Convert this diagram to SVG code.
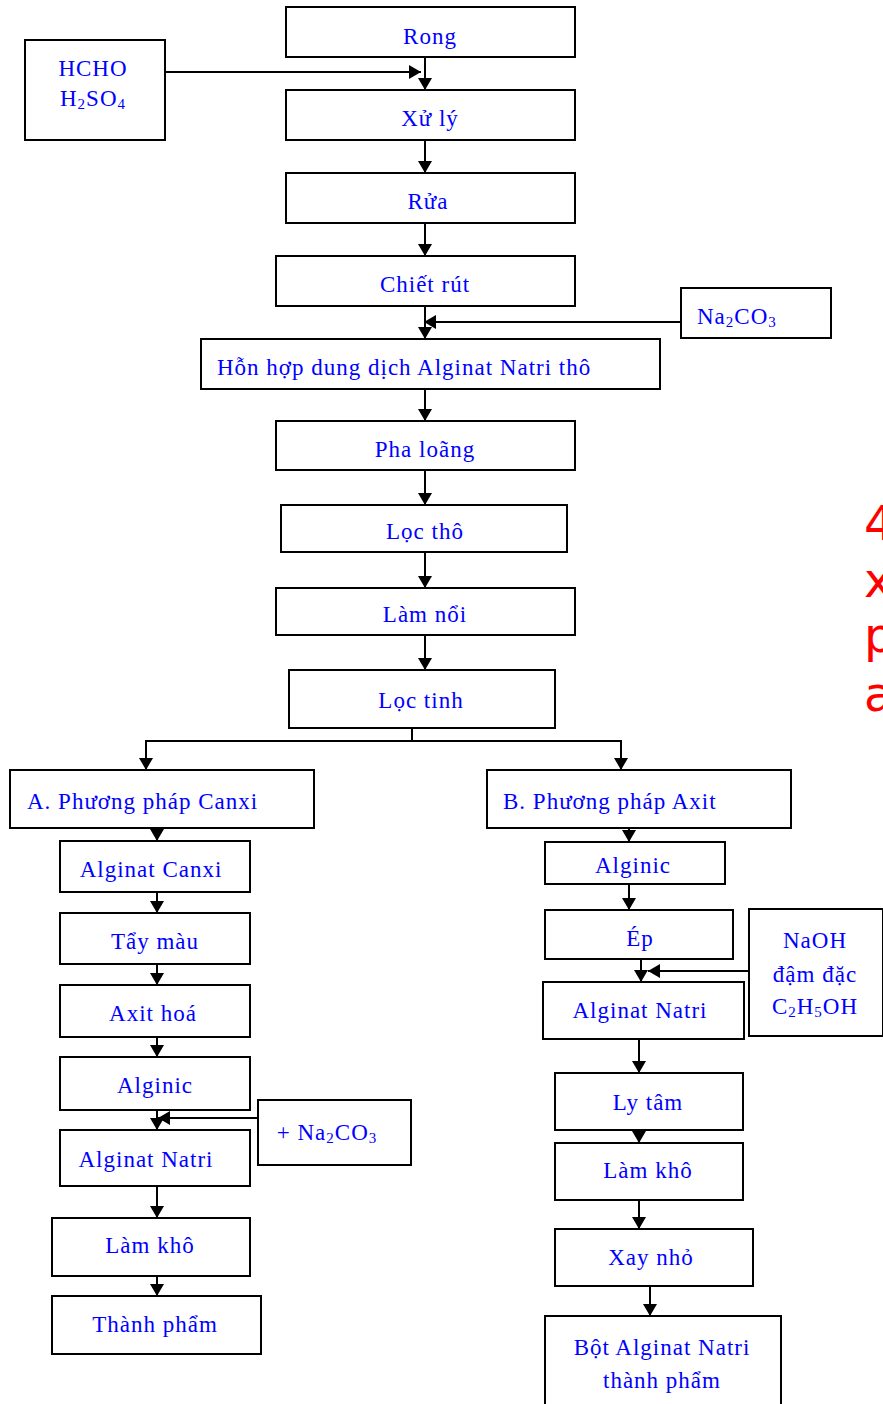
<svg xmlns="http://www.w3.org/2000/svg" width="883" height="1404" viewBox="0 0 883 1404">
  <style>
    .box { fill: #fff; stroke: #000; stroke-width: 2; }
    .lbl { font-family: "Liberation Serif", "Times New Roman", serif; font-size: 23px; fill: #0000ff; letter-spacing: 1px; text-anchor: middle; }
    .start { text-anchor: start; }
    .sub { font-size: 15px; baseline-shift: -3px; }
    .wire { fill: none; stroke: #000; stroke-width: 2; }
    .note { font-family: "DejaVu Sans", sans-serif; font-size: 48px; fill: #ff0000; }
  </style>
  <defs>
    <marker id="arrow" viewBox="0 0 12 14" refX="12" refY="7" markerWidth="12" markerHeight="14" markerUnits="userSpaceOnUse" orient="auto">
      <path d="M0,0 L12,7 L0,14 z" fill="#000"/>
    </marker>
  </defs>

  <rect width="883" height="1404" fill="#fff"/>

  <!-- connectors -->
  <g id="connectors" class="wire" marker-end="url(#arrow)">
    <line x1="165" y1="72" x2="421" y2="72"/>
    <line x1="425" y1="57" x2="425" y2="90"/>
    <line x1="425" y1="140" x2="425" y2="173"/>
    <line x1="425" y1="223" x2="425" y2="256"/>
    <line x1="425" y1="306" x2="425" y2="339"/>
    <line x1="681" y1="322" x2="424" y2="322"/>
    <line x1="425" y1="389" x2="425" y2="421"/>
    <line x1="425" y1="470" x2="425" y2="505"/>
    <line x1="425" y1="552" x2="425" y2="588"/>
    <line x1="425" y1="635" x2="425" y2="670"/>
    <polyline points="412,728 412,741 146,741 146,770"/>
    <polyline points="412,741 621,741 621,770"/>
    <!-- method A -->
    <line x1="157" y1="822" x2="157" y2="841"/>
    <line x1="157" y1="892" x2="157" y2="913"/>
    <line x1="157" y1="964" x2="157" y2="985"/>
    <line x1="157" y1="1037" x2="157" y2="1057"/>
    <line x1="157" y1="1110" x2="157" y2="1130"/>
    <line x1="258" y1="1118" x2="158" y2="1118"/>
    <line x1="157" y1="1186" x2="157" y2="1218"/>
    <line x1="157" y1="1265" x2="157" y2="1296"/>
    <!-- method B -->
    <line x1="629" y1="822" x2="629" y2="842"/>
    <line x1="629" y1="884" x2="629" y2="910"/>
    <line x1="641" y1="959" x2="641" y2="982"/>
    <line x1="749" y1="971" x2="648" y2="971"/>
    <line x1="639" y1="1039" x2="639" y2="1073"/>
    <line x1="639" y1="1130" x2="639" y2="1143"/>
    <line x1="639" y1="1200" x2="639" y2="1229"/>
    <line x1="650" y1="1286" x2="650" y2="1316"/>
  </g>

  <!-- main line -->
  <g id="n-rong"><rect class="box" x="286" y="7" width="289" height="50"/><text class="lbl" x="430" y="44">Rong</text></g>
  <g id="n-hcho"><rect class="box" x="25" y="40" width="140" height="100"/>
    <text class="lbl" x="93" y="76">HCHO</text>
    <text class="lbl" x="93" y="106">H<tspan class="sub">2</tspan>SO<tspan class="sub">4</tspan></text></g>
  <g id="n-xuly"><rect class="box" x="286" y="90" width="289" height="50"/><text class="lbl" x="430" y="126">Xử lý</text></g>
  <g id="n-rua"><rect class="box" x="286" y="173" width="289" height="50"/><text class="lbl" x="428" y="209">Rửa</text></g>
  <g id="n-chietrut"><rect class="box" x="276" y="256" width="299" height="50"/><text class="lbl" x="425" y="292">Chiết rút</text></g>
  <g id="n-na2co3"><rect class="box" x="681" y="288" width="150" height="50"/>
    <text class="lbl start" x="697" y="324">Na<tspan class="sub">2</tspan>CO<tspan class="sub">3</tspan></text></g>
  <g id="n-honhop"><rect class="box" x="201" y="339" width="459" height="50"/><text class="lbl start" x="217" y="375">Hỗn hợp dung dịch Alginat Natri thô</text></g>
  <g id="n-phaloang"><rect class="box" x="276" y="421" width="299" height="49"/><text class="lbl" x="425" y="457">Pha loãng</text></g>
  <g id="n-loctho"><rect class="box" x="281" y="505" width="286" height="47"/><text class="lbl" x="425" y="539">Lọc thô</text></g>
  <g id="n-lamnoi"><rect class="box" x="276" y="588" width="299" height="47"/><text class="lbl" x="425" y="622">Làm nổi</text></g>
  <g id="n-loctinh"><rect class="box" x="289" y="670" width="266" height="58"/><text class="lbl" x="421" y="708">Lọc tinh</text></g>

  <!-- method A: calcium -->
  <g id="n-a"><rect class="box" x="10" y="770" width="304" height="58"/><text class="lbl start" x="27" y="809">A. Phương pháp Canxi</text></g>
  <g id="n-a-alginatcanxi"><rect class="box" x="60" y="841" width="190" height="51"/><text class="lbl" x="151" y="877">Alginat Canxi</text></g>
  <g id="n-a-taymau"><rect class="box" x="60" y="913" width="190" height="51"/><text class="lbl" x="155" y="949">Tẩy màu</text></g>
  <g id="n-a-axithoa"><rect class="box" x="60" y="985" width="190" height="52"/><text class="lbl" x="153" y="1021">Axit hoá</text></g>
  <g id="n-a-alginic"><rect class="box" x="60" y="1057" width="190" height="53"/><text class="lbl" x="155" y="1093">Alginic</text></g>
  <g id="n-a-na2co3"><rect class="box" x="258" y="1100" width="153" height="65"/>
    <text class="lbl" x="327" y="1140">+ Na<tspan class="sub">2</tspan>CO<tspan class="sub">3</tspan></text></g>
  <g id="n-a-alginatnatri"><rect class="box" x="60" y="1130" width="190" height="56"/><text class="lbl" x="146" y="1167">Alginat Natri</text></g>
  <g id="n-a-lamkho"><rect class="box" x="52" y="1218" width="198" height="58"/><text class="lbl" x="150" y="1253">Làm khô</text></g>
  <g id="n-a-thanhpham"><rect class="box" x="52" y="1296" width="209" height="58"/><text class="lbl" x="155" y="1332">Thành phẩm</text></g>

  <!-- method B: acid -->
  <g id="n-b"><rect class="box" x="487" y="770" width="304" height="58"/><text class="lbl start" x="503" y="809">B. Phương pháp Axit</text></g>
  <g id="n-b-alginic"><rect class="box" x="545" y="842" width="180" height="42"/><text class="lbl" x="633" y="873">Alginic</text></g>
  <g id="n-b-ep"><rect class="box" x="545" y="910" width="188" height="49"/><text class="lbl" x="640" y="946">Ép</text></g>
  <g id="n-b-naoh"><rect class="box" x="749" y="909" width="134" height="127"/>
    <text class="lbl" x="815" y="948">NaOH</text>
    <text class="lbl" x="815" y="982">đậm đặc</text>
    <text class="lbl" x="815" y="1014">C<tspan class="sub">2</tspan>H<tspan class="sub">5</tspan>OH</text></g>
  <g id="n-b-alginatnatri"><rect class="box" x="543" y="982" width="201" height="57"/><text class="lbl" x="640" y="1018">Alginat Natri</text></g>
  <g id="n-b-lytam"><rect class="box" x="555" y="1073" width="188" height="57"/><text class="lbl" x="648" y="1110">Ly tâm</text></g>
  <g id="n-b-lamkho"><rect class="box" x="555" y="1143" width="188" height="57"/><text class="lbl" x="648" y="1178">Làm khô</text></g>
  <g id="n-b-xaynho"><rect class="box" x="555" y="1229" width="198" height="57"/><text class="lbl" x="651" y="1265">Xay nhỏ</text></g>
  <g id="n-b-bot"><rect class="box" x="545" y="1316" width="236" height="100"/>
    <text class="lbl" x="662" y="1355">Bột Alginat Natri</text>
    <text class="lbl" x="662" y="1388">thành phẩm</text></g>

  <!-- side caption, running off the right edge -->
  <g id="caption" class="note">
    <text x="864" y="540">4</text>
    <text x="864" y="597">x</text>
    <text x="864" y="652">p</text>
    <text x="864" y="711">a</text>
  </g>
</svg>
